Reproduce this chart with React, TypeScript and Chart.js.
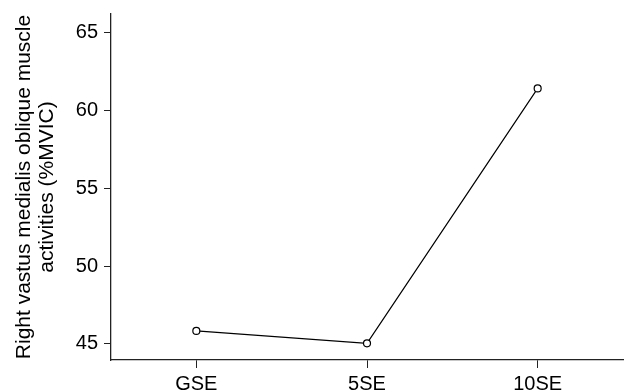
import React, { useEffect, useRef } from "react";
import { Chart, registerables } from "chart.js";

Chart.register(...registerables);

const categories = ["GSE", "5SE", "10SE"];
const values = [45.84, 45.04, 61.41];
const yTickValues = [45, 50, 55, 60, 65];
const yTitle = ["Right vastus medialis oblique muscle", "activities (%MVIC)"];

export default function App() {
  const ref = useRef<HTMLCanvasElement | null>(null);

  useEffect(() => {
    if (!ref.current) return;
    const font = { family: "'Liberation Sans', Arial, sans-serif", size: 20 };
    const chart = new Chart(ref.current, {
      type: "line",
      data: {
        labels: categories,
        datasets: [
          {
            data: values,
            borderColor: "#000",
            borderWidth: 1.2,
            backgroundColor: "#fff",
            pointBackgroundColor: "#fff",
            pointBorderColor: "#000",
            pointBorderWidth: 1.2,
            pointRadius: 3.5,
            tension: 0,
          },
        ],
      },
      options: {
        animation: false,
        responsive: true,
        maintainAspectRatio: false,
        layout: { autoPadding: false, padding: { top: 14, right: 1, left: 0, bottom: 0 } },
        plugins: { legend: { display: false }, tooltip: { enabled: false } },
        scales: {
          x: {
            type: "category",
            offset: true,
            grid: { drawOnChartArea: false, drawTicks: true, tickLength: 8, color: "#222" },
            border: { display: true, color: "#222", width: 1.3 },
            ticks: { color: "#000", font, padding: 4, maxRotation: 0 },
            afterFit: (s: any) => {
              s.height = 32;
              s.paddingLeft = 0;
              s.paddingRight = 0;
            },
          },
          y: {
            type: "linear",
            min: 43.97,
            max: 66.19,
            grid: { drawOnChartArea: false, drawTicks: true, tickLength: 7, color: "#222" },
            border: { display: true, color: "#222", width: 1.3 },
            ticks: { color: "#000", font, padding: 6 },
            afterBuildTicks: (s: any) => {
              s.ticks = yTickValues.map((v) => ({ value: v }));
            },
            afterFit: (s: any) => {
              s.width = 111;
              s.paddingTop = 0;
              s.paddingBottom = 0;
            },
            title: {
              display: true,
              text: yTitle,
              color: "#000",
              font: { ...font, size: 21, lineHeight: 1.08 },
              padding: { top: 13, bottom: 0 },
            },
          },
        },
      },
    });
    return () => chart.destroy();
  }, []);

  return (
    <div style={{ position: "fixed", left: 0, top: 0, width: 624, height: 392, background: "#fff" }}>
      <canvas ref={ref} />
    </div>
  );
}
